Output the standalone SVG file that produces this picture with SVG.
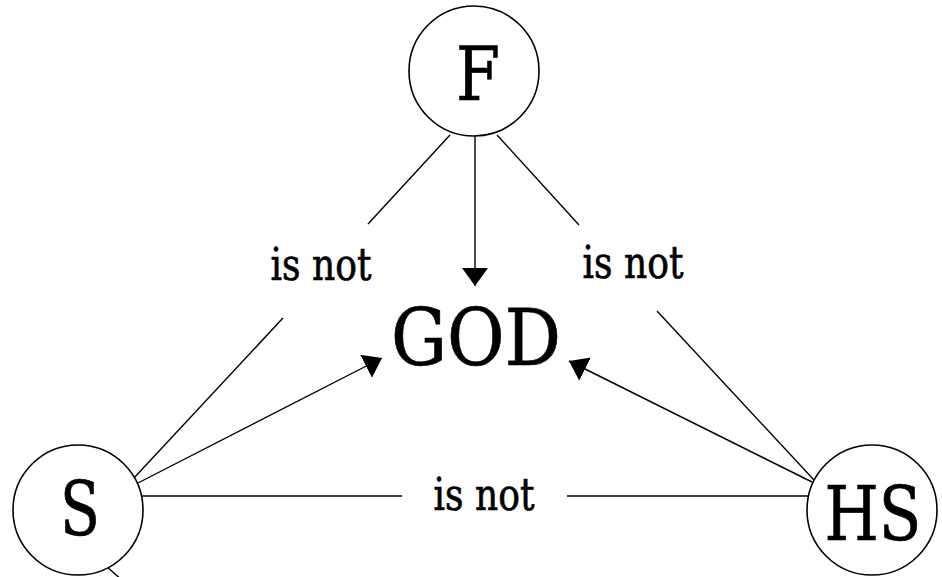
<svg xmlns="http://www.w3.org/2000/svg" width="942" height="577" viewBox="0 0 942 577">
<defs>
<marker id="ah" markerUnits="userSpaceOnUse" markerWidth="20" markerHeight="28" refX="18" refY="13" orient="auto">
<path d="M0,0 L18,13 L0,26 z" fill="#000"/>
</marker>
<style>
.node{fill:#fff;stroke:#000;stroke-width:1.6}
.edge{stroke:#000;stroke-width:1.4;fill:none}
.lbl{fill:#000;stroke:#000;stroke-width:0.7;text-anchor:middle;font-family:"DejaVu Serif","Liberation Serif",serif}
</style>
</defs>
<rect width="942" height="577" fill="#fff"/>
<g id="connectors">
<line class="edge" x1="450" y1="135" x2="368" y2="224"/>
<line class="edge" x1="283" y1="318" x2="133" y2="479"/>
<line class="edge" x1="497" y1="135" x2="579" y2="225"/>
<line class="edge" x1="657" y1="311" x2="814" y2="480"/>
<line class="edge" x1="475" y1="136" x2="475" y2="286" marker-end="url(#ah)"/>
<line class="edge" x1="138" y1="483" x2="382" y2="358" marker-end="url(#ah)"/>
<line class="edge" x1="812" y1="482" x2="569" y2="361" marker-end="url(#ah)"/>
<line class="edge" x1="142" y1="496" x2="402" y2="496"/>
<line class="edge" x1="567" y1="496" x2="809" y2="496"/>
<line class="edge" x1="106" y1="566" x2="123" y2="581"/>
<text class="lbl" x="321" y="280" font-size="45" textLength="101" lengthAdjust="spacingAndGlyphs">is not</text>
<text class="lbl" x="633" y="278" font-size="45" textLength="101" lengthAdjust="spacingAndGlyphs">is not</text>
<text class="lbl" x="484" y="510" font-size="45" textLength="101" lengthAdjust="spacingAndGlyphs">is not</text>
</g>
<g id="node-F">
<circle class="node" cx="474" cy="71" r="65"/>
<text class="lbl" x="478" y="100" font-size="75" textLength="44" lengthAdjust="spacingAndGlyphs">F</text>
</g>
<g id="node-S">
<circle class="node" cx="78" cy="510" r="65"/>
<text class="lbl" x="80" y="535" font-size="75" textLength="40" lengthAdjust="spacingAndGlyphs">S</text>
</g>
<g id="node-HS">
<circle class="node" cx="872" cy="510" r="65"/>
<text class="lbl" x="873" y="540" font-size="75" textLength="97" lengthAdjust="spacingAndGlyphs">HS</text>
</g>
<g id="node-GOD">
<text class="lbl" x="476" y="365" font-size="78" textLength="170" lengthAdjust="spacingAndGlyphs">GOD</text>
</g>
</svg>
